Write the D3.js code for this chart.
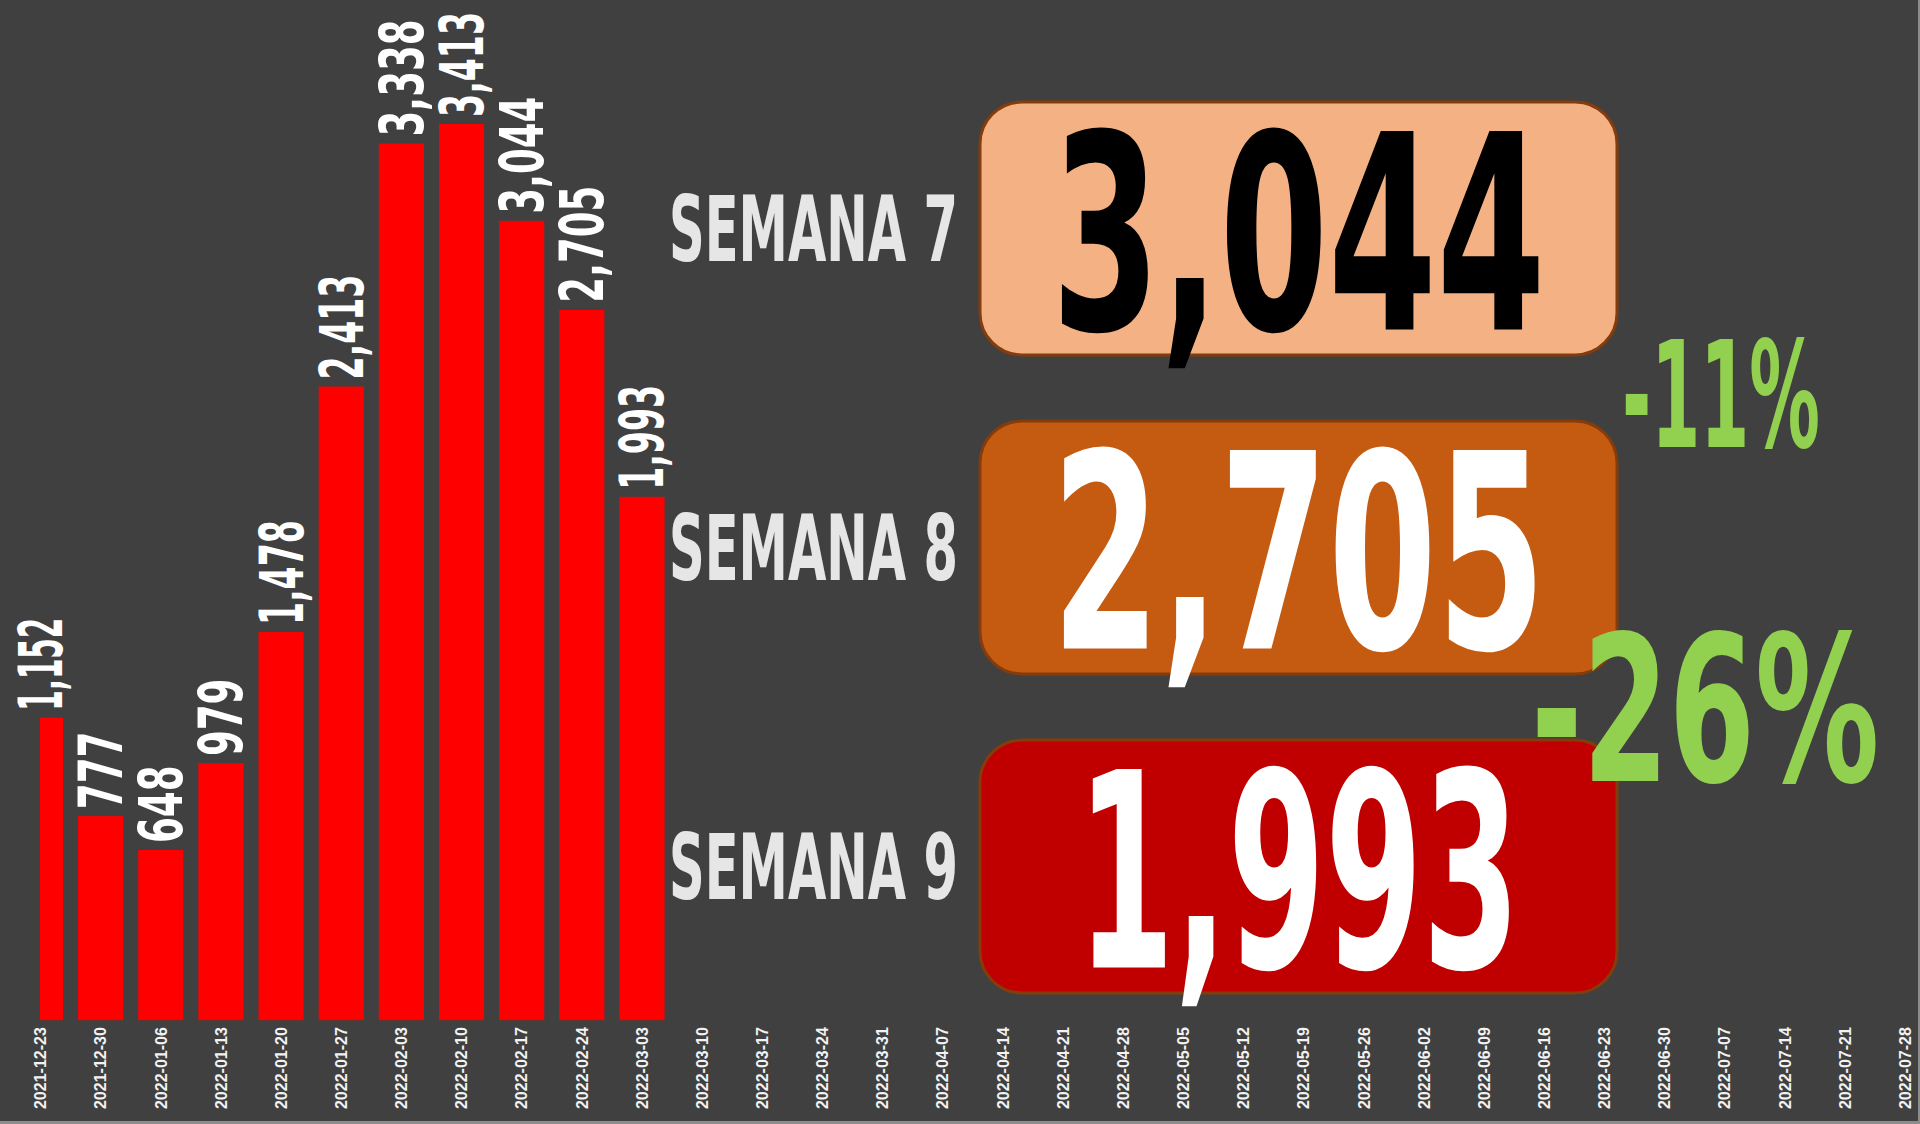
<!DOCTYPE html>
<html>
<head>
<meta charset="utf-8">
<script src="https://cdn.jsdelivr.net/npm/d3@7"></script>
<style>
  html, body { margin: 0; padding: 0; background: #404040; }
  svg { display: block; }
</style>
</head>
<body>
<svg id="chart" width="1920" height="1124"></svg>
<script>
// ---------- data ----------
const categories = [
  "2021-12-23","2021-12-30","2022-01-06","2022-01-13","2022-01-20","2022-01-27",
  "2022-02-03","2022-02-10","2022-02-17","2022-02-24","2022-03-03","2022-03-10",
  "2022-03-17","2022-03-24","2022-03-31","2022-04-07","2022-04-14","2022-04-21",
  "2022-04-28","2022-05-05","2022-05-12","2022-05-19","2022-05-26","2022-06-02",
  "2022-06-09","2022-06-16","2022-06-23","2022-06-30","2022-07-07","2022-07-14",
  "2022-07-21","2022-07-28"
];
const cases = [1152, 777, 648, 979, 1478, 2413, 3338, 3413, 3044, 2705, 1993];
const weekLabels = ["SEMANA 7", "SEMANA 8", "SEMANA 9"];
const weekValues = [3044, 2705, 1993];
const changeLabels = ["-11%", "-26%"];

// ---------- helpers ----------
const W = 1920, H = 1124;
const FONT_COND = "'Liberation Sans Narrow','DejaVu Sans Condensed','Arial Narrow','DejaVu Sans',sans-serif";
const CAP = 0.72; // cap-height / font-size
const charW = { "1": 0.33, ",": 0.26, "-": 0.40, "%": 0.89, " ": 0.25 };
function inkWidth(s, cap, k = 1) {
  let w = 0;
  for (const ch of s) w += (charW[ch] !== undefined ? charW[ch] : 0.59);
  return (w - 0.1) * cap * k;
}
const fmt = d3.format(",");

const svg = d3.select("#chart");
svg.append("rect").attr("width", W).attr("height", H).attr("fill", "#404040");

// ---------- scales ----------
const x = d3.scaleBand()
  .domain(categories)
  .range([10.4, 1935.2])
  .paddingInner(0.25)
  .paddingOuter(0.125);

const y = d3.scaleLinear()
  .domain([0, 3800])
  .range([1020.2, 22.3]);

// ---------- bars ----------
svg.append("clipPath").attr("id", "plotClip")
  .append("rect").attr("x", 40).attr("y", 0).attr("width", W - 40).attr("height", H);

const barData = cases.map((v, i) => ({ cat: categories[i], v }));

svg.append("g").attr("clip-path", "url(#plotClip)")
  .selectAll("rect")
  .data(barData)
  .join("rect")
  .attr("x", d => x(d.cat))
  .attr("width", x.bandwidth())
  .attr("y", d => y(d.v))
  .attr("height", d => y(0) - y(d.v))
  .attr("fill", "#ff0000");

// value labels (rotated)
const labelCap = 43;
svg.append("g")
  .selectAll("text")
  .data(barData)
  .join("text")
  .attr("transform", d => `translate(${x(d.cat) + x.bandwidth() / 2},${y(d.v) - 7}) rotate(-90)`)
  .attr("dy", (labelCap / 2) + "px")
  .attr("text-anchor", "start")
  .attr("font-family", FONT_COND)
  .attr("font-weight", "bold")
  .attr("font-size", labelCap / CAP)
  .attr("fill", "#ffffff")
  .attr("textLength", d => inkWidth(fmt(d.v), labelCap, 1.08))
  .attr("lengthAdjust", "spacingAndGlyphs")
  .text(d => fmt(d.v));

// ---------- x axis ----------
const xAxis = svg.append("g")
  .attr("transform", `translate(0,${y(0)})`)
  .call(d3.axisBottom(x).tickSize(0));
xAxis.select(".domain").remove();
xAxis.selectAll(".tick text")
  .attr("transform", "rotate(-90)")
  .attr("x", -7)
  .attr("y", 0)
  .attr("dy", "0.36em")
  .attr("text-anchor", "end")
  .attr("font-family", "'Liberation Sans', Arial, sans-serif")
  .attr("font-weight", "bold")
  .attr("font-size", 16)
  .attr("fill", "#f2f2f2");

// ---------- week boxes ----------
const boxX = 980, boxW = 637;
const yb = d3.scaleBand()
  .domain(weekLabels)
  .range([102, 993])
  .paddingInner(0.207)
  .paddingOuter(0);

const boxFill = ["#f4b183", "#c55a11", "#c00000"];
const boxText = ["#000000", "#ffffff", "#ffffff"];
const bigCap = 196;
const semCap = 65;

const weeks = weekLabels.map((l, i) => ({ label: l, value: weekValues[i], i }));

const wg = svg.append("g").selectAll("g").data(weeks).join("g");

wg.append("rect")
  .attr("x", boxX)
  .attr("y", d => yb(d.label))
  .attr("width", boxW)
  .attr("height", yb.bandwidth())
  .attr("rx", 42).attr("ry", 42)
  .attr("fill", d => boxFill[d.i])
  .attr("stroke", "#843c0c")
  .attr("stroke-width", 3);

wg.append("text")
  .attr("x", boxX + boxW / 2)
  .attr("y", d => yb(d.label) + yb.bandwidth() / 2 + bigCap / 2 + 3)
  .attr("text-anchor", "middle")
  .attr("font-family", FONT_COND)
  .attr("font-weight", "bold")
  .attr("font-size", bigCap / CAP)
  .attr("fill", d => boxText[d.i])
  .attr("textLength", d => inkWidth(fmt(d.value), bigCap))
  .attr("lengthAdjust", "spacingAndGlyphs")
  .text(d => fmt(d.value));

wg.append("text")
  .attr("x", 958)
  .attr("y", d => yb(d.label) + yb.bandwidth() / 2 + semCap / 2)
  .attr("text-anchor", "end")
  .attr("font-family", FONT_COND)
  .attr("font-weight", "bold")
  .attr("font-size", semCap / CAP)
  .attr("fill", "#e6e6e6")
  .attr("textLength", 289)
  .attr("lengthAdjust", "spacingAndGlyphs")
  .text(d => d.label);

// ---------- change annotations ----------
const changeLayout = [
  { x: 1622, y: 447, cap: 107 },
  { x: 1531, y: 781, cap: 147 }
];
svg.append("g").selectAll("text")
  .data(changeLabels.map((t, i) => ({ t, ...changeLayout[i] })))
  .join("text")
  .attr("x", d => d.x)
  .attr("y", d => d.y)
  .attr("text-anchor", "start")
  .attr("font-family", FONT_COND)
  .attr("font-weight", "bold")
  .attr("font-size", d => d.cap / CAP)
  .attr("fill", "#92d050")
  .attr("textLength", d => inkWidth(d.t, d.cap))
  .attr("lengthAdjust", "spacingAndGlyphs")
  .text(d => d.t);

// ---------- frame edges ----------
svg.append("line").attr("x1", 1919).attr("x2", 1919).attr("y1", 0).attr("y2", H)
  .attr("stroke", "#8c8c8c").attr("stroke-width", 2);
svg.append("line").attr("x1", 0).attr("x2", W).attr("y1", 1122.5).attr("y2", 1122.5)
  .attr("stroke", "#8c8c8c").attr("stroke-width", 3);
</script>
</body>
</html>
